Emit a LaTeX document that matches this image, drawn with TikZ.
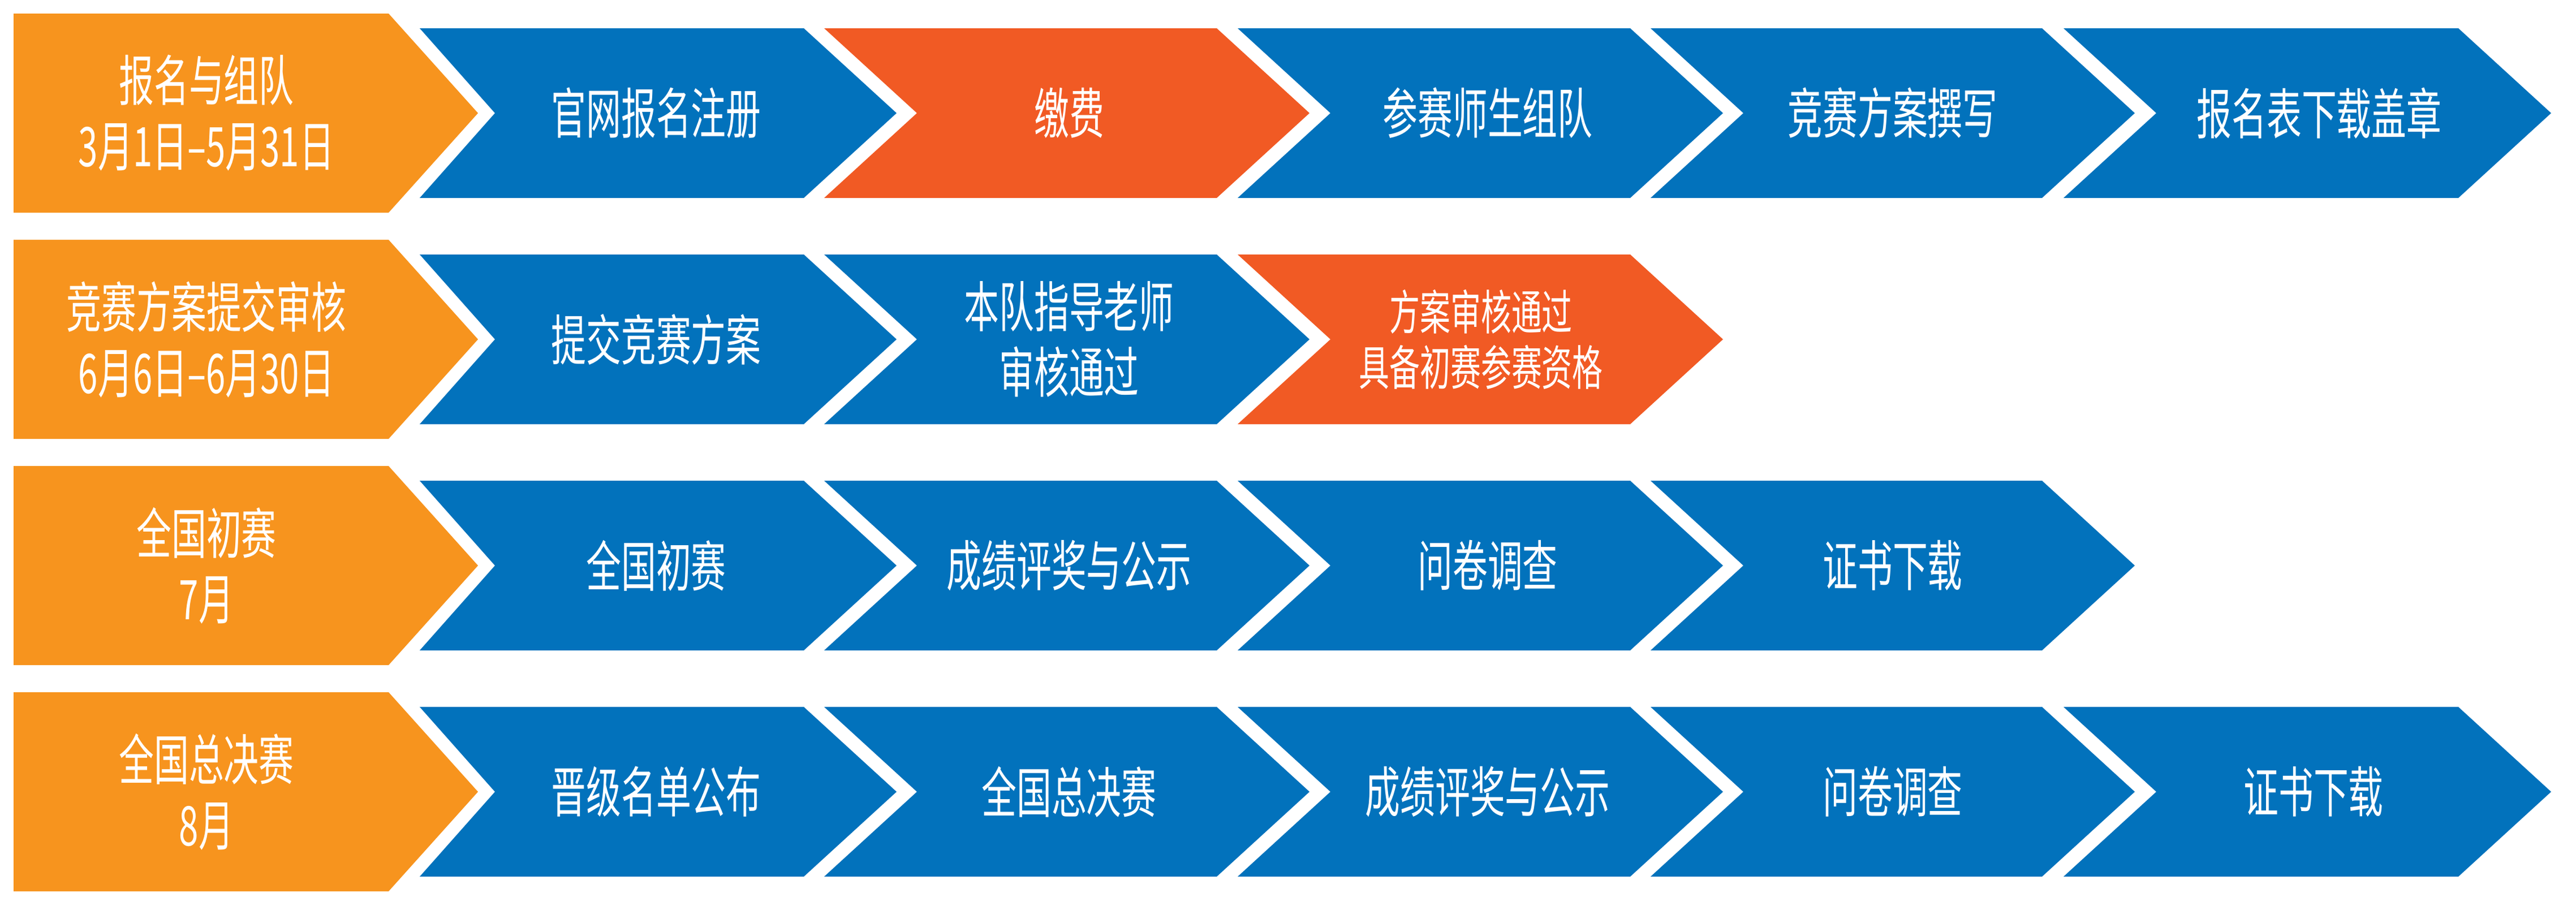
\documentclass[tikz,border=0pt]{standalone}
\usepackage{fontspec}
\usepackage{tikz}
\newfontfamily\cnfont[FakeStretch=0.64]{Noto Sans CJK SC}
\definecolor{phaseorange}{HTML}{F7941E}
\definecolor{taskblue}{HTML}{0272BC}
\definecolor{milered}{HTML}{F15A24}
\tikzstyle{phase} = [fill=phaseorange]
\tikzstyle{task} = [fill=taskblue]
\tikzstyle{milestone} = [fill=milered]
\tikzstyle{cntext} = [text=white, align=center, inner sep=0pt, font=\cnfont\fontsize{27.5pt}{33pt}\selectfont]
\tikzstyle{cnsmall} = [cntext, font=\cnfont\fontsize{24pt}{28pt}\selectfont]
% chevron: style, left x, right x, centre y, notch depth
\newcommand{\chevron}[5]{\fill[#1] (#2,#4+1.5) -- (#3,#4+1.5) -- (#3+1.64,#4) -- (#3,#4-1.5) -- (#2,#4-1.5) -- (#2+#5,#4) -- cycle;}
% orange phase box at centre y
\newcommand{\phasebox}[1]{\fill[phase] (0.24,#1+1.76) -- (6.87,#1+1.76) -- (8.45,#1) -- (6.87,#1-1.76) -- (0.24,#1-1.76) -- cycle;}

\begin{document}
\begin{tikzpicture}
\useasboundingbox (0,0) rectangle (45.54,-16.01);

% row 1
\phasebox{-2}
\chevron{task}{7.42}{14.21}{-2}{1.33}
\chevron{milestone}{14.57}{21.51}{-2}{1.64}
\chevron{task}{21.88}{28.82}{-2}{1.64}
\chevron{task}{29.18}{36.10}{-2}{1.64}
\chevron{task}{36.48}{43.46}{-2}{1.64}
\node (signup) [cntext] at (3.65,-2) {报名与组队\\3月1日–5月31日};
\node (register) [cntext] at (11.6,-2) {官网报名注册};
\node (fee) [cntext] at (18.9,-2) {缴费};
\node (team) [cntext] at (26.3,-2) {参赛师生组队};
\node (write) [cntext] at (33.46,-2) {竞赛方案撰写};
\node (stamp) [cntext] at (41.0,-2) {报名表下载盖章};

% row 2
\phasebox{-6}
\chevron{task}{7.42}{14.21}{-6}{1.33}
\chevron{task}{14.57}{21.51}{-6}{1.64}
\chevron{milestone}{21.88}{28.82}{-6}{1.64}
\node (review) [cntext] at (3.65,-6) {竞赛方案提交审核\\6月6日–6月30日};
\node (submit) [cntext] at (11.6,-6) {提交竞赛方案};
\node (tutor) [cntext] at (18.9,-6) {本队指导老师\\审核通过};
\node (qualify) [cnsmall] at (26.18,-6) {方案审核通过\\具备初赛参赛资格};

% row 3
\phasebox{-10}
\chevron{task}{7.42}{14.21}{-10}{1.33}
\chevron{task}{14.57}{21.51}{-10}{1.64}
\chevron{task}{21.88}{28.82}{-10}{1.64}
\chevron{task}{29.18}{36.10}{-10}{1.64}
\node (prelim) [cntext] at (3.65,-10) {全国初赛\\7月};
\node (prelimrun) [cntext] at (11.6,-10) {全国初赛};
\node (awardA) [cntext] at (18.9,-10) {成绩评奖与公示};
\node (surveyA) [cntext] at (26.3,-10) {问卷调查};
\node (certA) [cntext] at (33.46,-10) {证书下载};

% row 4
\phasebox{-14}
\chevron{task}{7.42}{14.21}{-14}{1.33}
\chevron{task}{14.57}{21.51}{-14}{1.64}
\chevron{task}{21.88}{28.82}{-14}{1.64}
\chevron{task}{29.18}{36.10}{-14}{1.64}
\chevron{task}{36.48}{43.46}{-14}{1.64}
\node (final) [cntext] at (3.65,-14) {全国总决赛\\8月};
\node (publish) [cntext] at (11.6,-14) {晋级名单公布};
\node (finalrun) [cntext] at (18.9,-14) {全国总决赛};
\node (awardB) [cntext] at (26.3,-14) {成绩评奖与公示};
\node (surveyB) [cntext] at (33.46,-14) {问卷调查};
\node (certB) [cntext] at (40.9,-14) {证书下载};
\end{tikzpicture}
\end{document}
